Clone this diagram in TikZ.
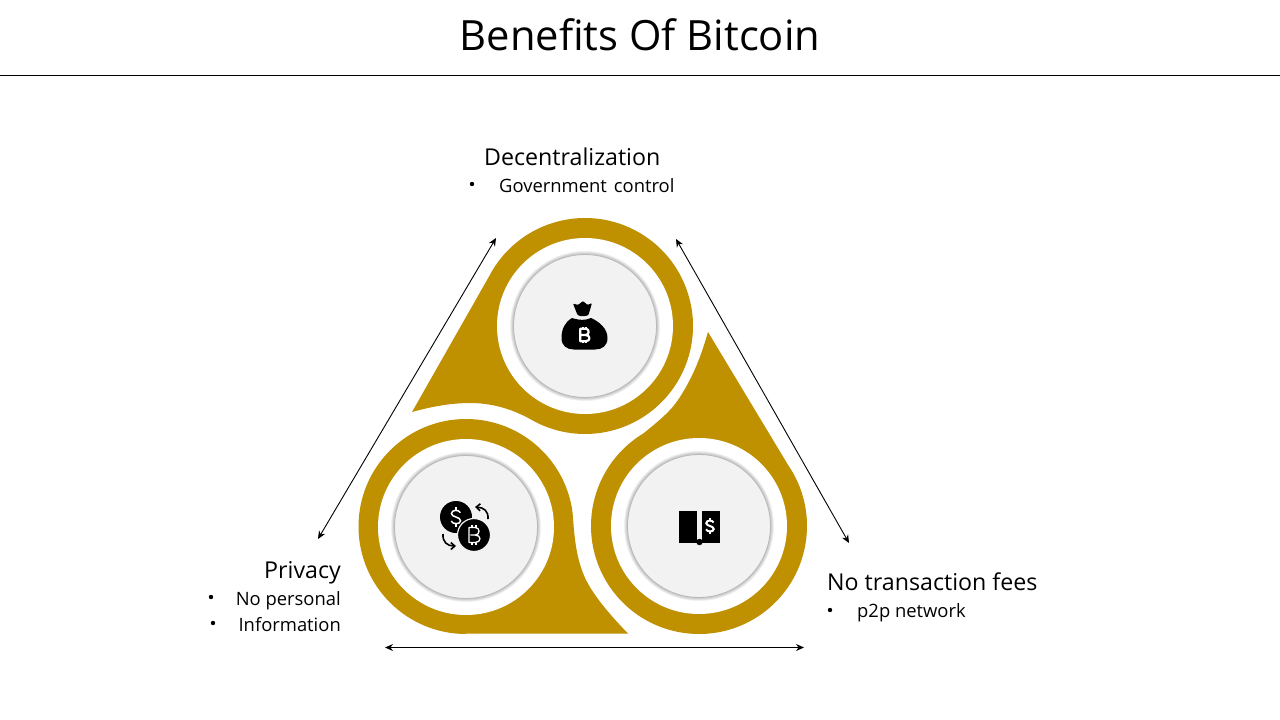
\documentclass[tikz,border=0pt]{standalone}
\usepackage{fontspec}
\setmainfont{Open Sans}
\usetikzlibrary{shapes,backgrounds,calc,arrows.meta}
\definecolor{bitgold}{HTML}{BF9000}
\definecolor{discgrey}{HTML}{F2F2F2}
\newcommand\headfont{\fontsize{23.2}{28}\selectfont}
\newcommand\listfont{\fontsize{18.4}{22}\selectfont}
\tikzset{
  goldshape/.style={fill=bitgold, draw=none},
  gap/.style={fill=white, draw=none},
  disc/.style={circle, fill=discgrey, draw=black!27, line width=.9pt, minimum size=143pt, inner sep=0pt},
  headtext/.style={anchor=base west, font=\headfont, inner sep=0pt},
  listtext/.style={anchor=base west, font=\listfont, inner sep=0pt},
  bullet/.style={circle, fill=black, inner sep=0pt, minimum size=4.4pt},
  measure/.style={{Stealth[length=8pt,width=7pt]}-{Stealth[length=8pt,width=7pt]}, line width=.9pt},
  dollarsign/.pic={
    \draw[pic actions] (3.2,-3.2) .. controls (2.5,-5.6) and (-3.5,-5.6) .. (-3.4,-2.5) .. controls (-3.3,.2) and (3.4,-.2) .. (3.4,2.8) .. controls (3.4,5.6) and (-2.8,5.6) .. (-3.5,3);
    \draw[pic actions] (0,-7.5) -- (0,-4.8) (0,4.8) -- (0,7.5);
  },
  bitcoinsign/.pic={
    \draw[pic actions, line join=round] (-3,0) -- (1,0) .. controls (5,0) and (5,-6) .. (1,-6) -- (-4,-6) -- (-4,6) -- (1,6) .. controls (6,6) and (6,0) .. (1,0);
    \draw[pic actions] (-1.5,-8) -- (-1.5,-6) (1.5,-8) -- (1.5,-6) (-1.5,6) -- (-1.5,8) (1.5,6) -- (1.5,8);
  }
}
\begin{document}
\begin{tikzpicture}[x=1pt, y=-1pt]
\useasboundingbox (0,0) rectangle (1280,720);
\node[font=\fontsize{41.7}{46}\selectfont, anchor=base, inner sep=0pt] (title) at (640,50) {Benefits Of Bitcoin};
\draw[line width=.8pt] (0,75) coordinate (ruleL) -- (1280,75) coordinate (ruleR);

% three gold drops
\fill[goldshape] (412,412) -- ([shift={(585,326)}]207.3:108) arc[start angle=207.3, end angle=480.6, radius=108]
  .. controls (510,408) and (490,403) .. (470,403) .. controls (450,403) and (430,407) .. (412,412) -- cycle;
\fill[goldshape] (708,332) -- ([shift={(699,526)}]-34.7:108) arc[start angle=-34.7, end angle=239, radius=108]
  .. controls (660,420) and (672,410) .. (680,397) .. controls (692,378) and (700,360) .. (708,332) -- cycle;
\fill[goldshape] (466,634) arc[start angle=90, end angle=352, radius=107.5]
  .. controls (574,530) and (575,553) .. (583,573) .. controls (590,592) and (610,615) .. (628,633.5) -- (466,633.5) -- cycle;

% white holes and grey discs
\foreach \nm/\xx/\yy in {topdisc/585/326, leftdisc/466/527, rightdisc/699/526}{
  \fill[gap] (\xx,\yy) circle (88);
  \foreach \rr in {75,74.2,73.5,72.8}
    \fill[black, opacity=.05] (\xx,\yy) circle (\rr);
  \node[disc] (\nm) at (\xx,\yy) {};
}

% money bag
\fill[rounded corners=1pt] (573,303.5) -- (578,305) -- (583,301) -- (587.5,305) -- (592,303) -- (588.5,315) .. controls (585,316.5) and (581,316.5) .. (577.5,315) -- cycle;
\fill (572,318) .. controls (580,320.5) and (585,320.5) .. (591,318) .. controls (600,322) and (607.5,329) .. (607.5,338) .. controls (607.5,346) and (602,349.5) .. (595,349.5) -- (574,349.5) .. controls (567,349.5) and (561.5,346) .. (561.5,338) .. controls (561.5,329) and (565,322) .. (572,318) -- cycle;
\pic[scale=1.05, white, line width=2.2pt] at (584.5,335) {bitcoinsign};

% exchange
\fill (456,517) circle (16);
\pic[scale=1.35, white, line width=1.5pt] at (456,517) {dollarsign};
\fill[draw=discgrey, line width=1.2pt] (474,535) circle (16.5);
\pic[scale=1.25, white, line width=1.3pt] at (474,535) {bitcoinsign};
\draw[-{Straight Barb[length=4pt,width=7pt]}, line width=1.6pt] (488,519) .. controls (488.5,511) and (484,507.5) .. (475,507);
\draw[-{Straight Barb[length=4pt,width=7pt]}, line width=1.6pt] (443,534) .. controls (442.5,542) and (447,546) .. (456,546);

% open book
\fill (679,511) rectangle (697,543);
\fill (702,511) rectangle (720,543);
\fill (679,541) rectangle (720,543);
\fill (699.5,542) circle (3.2);
\pic[scale=1.1, white, line width=2pt] at (710,526) {dollarsign};

% arrows
\coordinate (leftA) at (496,238);
\coordinate (leftB) at (318,539);
\coordinate (rightA) at (676,239);
\coordinate (rightB) at (849,543);
\coordinate (baseA) at (385,647.5);
\coordinate (baseB) at (804,647.5);
\draw[measure] (leftA) -- (leftB);
\draw[measure] (rightA) -- (rightB);
\draw[measure] (baseA) -- (baseB);

% labels
\node[headtext] (decentral) at (484,165) {Decentralization};
\node[bullet] (bulletA) at (472,184) {};
\node[listtext] (govern) at (499,192) {Government\hspace{.12em} control};
\node[headtext, anchor=base east] (privacy) at (341,578) {Privacy};
\node[bullet] (bulletB) at (211,597) {};
\node[listtext, anchor=base east] (personal) at (341,605) {No personal};
\node[bullet] (bulletC) at (213,623) {};
\node[listtext, anchor=base east] (inform) at (341,631) {Information};
\node[headtext] (fees) at (827,590) {No transaction fees};
\node[bullet] (bulletD) at (830,610) {};
\node[listtext] (ptwop) at (857,617) {p2p network};
\end{tikzpicture}
\end{document}
